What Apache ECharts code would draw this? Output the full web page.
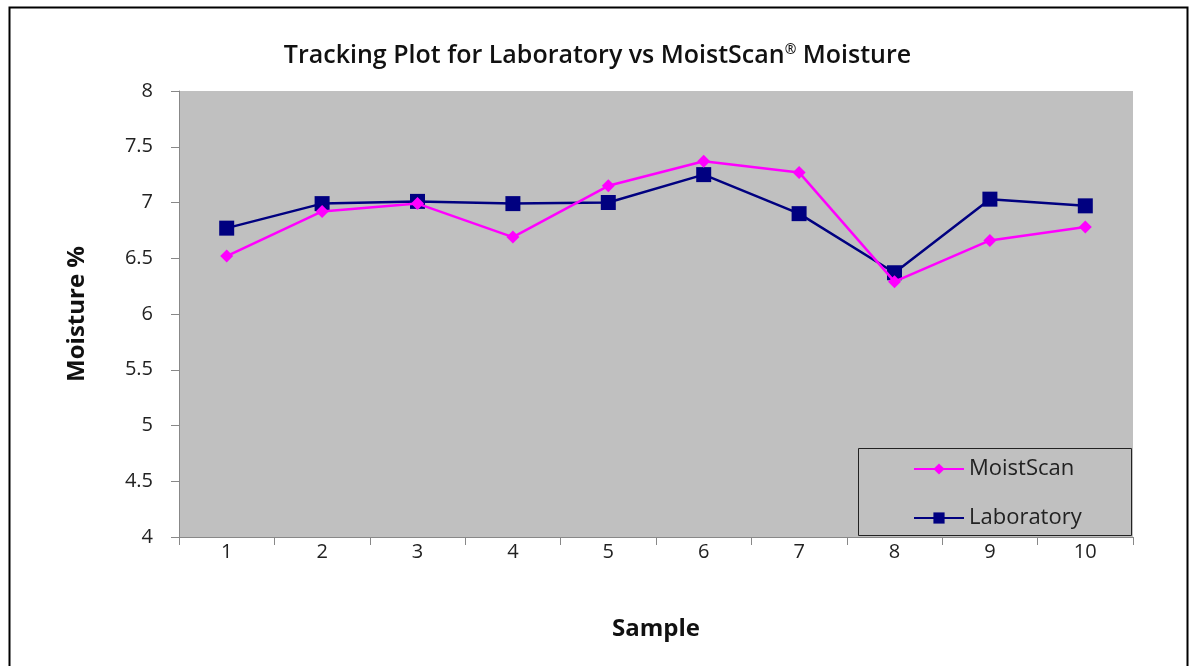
<!DOCTYPE html>
<html><head><meta charset="utf-8">
<script src="https://cdn.jsdelivr.net/npm/echarts@6/dist/echarts.min.js"></script>
<style>html,body{margin:0;padding:0;background:#fff}#c{width:1195px;height:666px}</style>
</head><body><div id="c"></div>
<script>
const categories = ['1','2','3','4','5','6','7','8','9','10'];
const moistScan = [6.52, 6.92, 6.99, 6.69, 7.15, 7.37, 7.27, 6.29, 6.66, 6.78];
const laboratory = [6.77, 6.99, 7.01, 6.99, 7.00, 7.25, 6.90, 6.37, 7.03, 6.97];
const titleText = 'Tracking Plot for Laboratory vs MoistScan{sup|®} Moisture';

const chart = echarts.init(document.getElementById('c'), null, {renderer: 'canvas'});
const fontFam = '"Open Sans", "DejaVu Sans", sans-serif';
chart.setOption({
  animation: false,
  backgroundColor: '#fff',
  graphic: [
    {type: 'rect', shape: {x: 9.5, y: 7.5, width: 1178, height: 680}, style: {fill: 'none', stroke: '#000', lineWidth: 2}, z: 0},
    {type: 'rect', shape: {x: 858.5, y: 448.5, width: 273, height: 87}, style: {fill: '#c0c0c0', stroke: '#222', lineWidth: 1}, z: 3}
  ],
  title: {
    text: titleText,
    left: 'center',
    top: 38,
    textStyle: {
      fontFamily: fontFam, fontSize: 25, fontWeight: 600, color: '#111',
      rich: {sup: {fontSize: 14, fontWeight: 600, verticalAlign: 'top', padding: [0,0,12,0], fontFamily: fontFam, color: '#111'}}
    }
  },
  legend: {
    orient: 'vertical',
    left: 908, top: 453,
    itemWidth: 50, itemHeight: 14, itemGap: 27,
    textStyle: {fontFamily: fontFam, fontSize: 22, color: '#222'},
    data: ['MoistScan', 'Laboratory'],
    z: 5
  },
  grid: {left: 179, right: 62, top: 91, bottom: 129, show: true, backgroundColor: '#c0c0c0', borderWidth: 0},
  xAxis: {
    type: 'category',
    data: categories,
    boundaryGap: true,
    name: 'Sample',
    nameLocation: 'middle',
    nameGap: 80,
    nameTextStyle: {fontFamily: fontFam, fontSize: 24, fontWeight: 'bold', color: '#111'},
    axisLine: {lineStyle: {color: '#888', width: 1}},
    axisTick: {show: true, length: 8, lineStyle: {color: '#888'}},
    axisLabel: {fontFamily: fontFam, fontSize: 20, color: '#222', margin: 5},
    splitLine: {show: false}
  },
  yAxis: {
    type: 'value',
    min: 4, max: 8, interval: 0.5,
    name: 'Moisture %',
    nameLocation: 'middle',
    nameGap: 90,
    nameTextStyle: {fontFamily: fontFam, fontSize: 24, fontWeight: 'bold', color: '#111'},
    axisLine: {show: true, lineStyle: {color: '#888', width: 1}},
    axisTick: {show: true, length: 8, lineStyle: {color: '#888'}},
    axisLabel: {fontFamily: fontFam, fontSize: 20, color: '#222', margin: 26},
    splitLine: {show: false}
  },
  series: [
    {name: 'MoistScan', type: 'line', data: moistScan, symbol: 'diamond', symbolSize: 13,
     lineStyle: {color: '#ff00ff', width: 2.5}, itemStyle: {color: '#ff00ff'}, z: 3},
    {name: 'Laboratory', type: 'line', data: laboratory, symbol: 'rect', symbolSize: 15,
     lineStyle: {color: '#000080', width: 2.5}, itemStyle: {color: '#000080'}, z: 2}
  ]
});
</script></body></html>
